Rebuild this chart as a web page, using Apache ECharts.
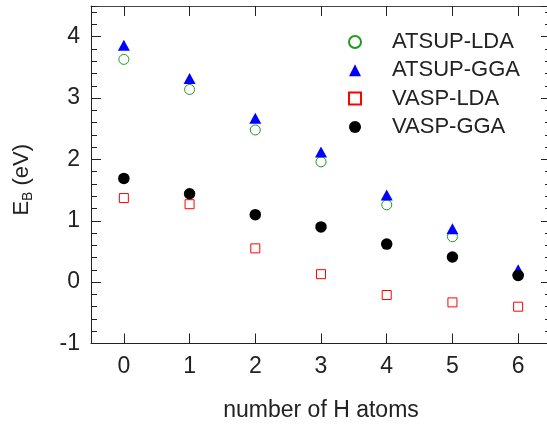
<!DOCTYPE html>
<html>
<head>
<meta charset="utf-8">
<script src="https://cdn.jsdelivr.net/npm/echarts@6/dist/echarts.min.js"></script>
<style>
html,body{margin:0;padding:0;background:#fff;}
#chart{width:547px;height:427px;}
</style>
</head>
<body>
<div id="chart"></div>
<script>
var categories = ['0', '1', '2', '3', '4', '5', '6'];
var atsupLda = [3.63, 3.14, 2.48, 1.96, 1.26, 0.74, 0.11];
var atsupGga = [3.86, 3.32, 2.67, 2.12, 1.42, 0.87, 0.20];
var vaspLda = [1.37, 1.27, 0.55, 0.13, -0.21, -0.33, -0.40];
var vaspGga = [1.69, 1.44, 1.10, 0.90, 0.62, 0.41, 0.11];
var seriesNames = ['ATSUP-LDA', 'ATSUP-GGA', 'VASP-LDA', 'VASP-GGA'];

var FONT = 'Liberation Sans, Arial, Helvetica, sans-serif';
var AXC = '#222';
var chart = echarts.init(document.getElementById('chart'), null, {renderer: 'canvas'});

function yAx(pos, interval, len, labels, line, extra) {
  var o = {
    type: 'value', position: pos, min: -1, max: 4.5, interval: interval,
    splitLine: {show: false},
    axisLine: {show: line, onZero: false, lineStyle: {color: AXC, width: 1}},
    axisTick: {show: true, inside: true, length: len, lineStyle: {color: AXC, width: 1}},
    axisLabel: {show: labels, showMaxLabel: false, margin: 11, fontSize: 23, color: AXC, fontFamily: FONT}
  };
  if (extra) for (var k in extra) o[k] = extra[k];
  return o;
}

var option = {
  backgroundColor: '#fff',
  animation: false,
  grid: {left: 91, top: 6, right: -4, bottom: 83.5, containLabel: false, outerBoundsMode: 'none'},
  legend: {
    orient: 'vertical', left: 348, top: 31, padding: 0,
    itemWidth: 12, itemHeight: 12, itemGap: 6.3,
    textStyle: {fontSize: 22, lineHeight: 22, color: AXC, fontFamily: FONT, padding: [0, 0, 0, 26]},
    data: seriesNames
  },
  xAxis: [{
    type: 'category', data: categories, position: 'bottom', boundaryGap: true,
    name: 'number of H atoms', nameLocation: 'middle', nameGap: 56,
    nameTextStyle: {fontSize: 23, color: AXC, fontFamily: FONT},
    axisLine: {show: true, onZero: false, lineStyle: {color: AXC, width: 1}},
    axisTick: {show: true, inside: true, length: 10, alignWithLabel: true, lineStyle: {color: AXC}},
    axisLabel: {margin: 12, fontSize: 23, color: AXC, fontFamily: FONT},
    splitLine: {show: false}
  }, {
    type: 'category', data: categories, position: 'top', boundaryGap: true,
    axisLine: {show: true, onZero: false, lineStyle: {color: '#444', width: 1}},
    axisTick: {show: true, inside: true, length: 10, alignWithLabel: true, lineStyle: {color: AXC}},
    axisLabel: {show: false},
    splitLine: {show: false}
  }],
  yAxis: [
    yAx('left', 1, 10, true, true, {
      name: '{a|E}{b|B}{a| (eV)}', nameLocation: 'middle', nameGap: 56, nameRotate: 90,
      nameTextStyle: {color: AXC, fontFamily: FONT, padding: [0, 10, 0, 0], rich: {
        a: {fontSize: 22, color: AXC, fontFamily: FONT, lineHeight: 26},
        b: {fontSize: 14, color: AXC, fontFamily: FONT, lineHeight: 26, verticalAlign: 'bottom', padding: [10, 0, 0, 0]}
      }}
    }),
    yAx('left', 0.2, 6, false, false),
    yAx('right', 1, 10, false, true),
    yAx('right', 0.2, 6, false, false)
  ],
  series: [{
    name: seriesNames[0], type: 'scatter', data: atsupLda,
    symbol: 'circle', symbolSize: 10,
    itemStyle: {color: 'rgba(255,255,255,0)', borderColor: '#1f9a1f', borderWidth: 1, opacity: 1}
  }, {
    name: seriesNames[1], type: 'scatter', data: atsupGga,
    symbol: 'triangle', symbolSize: [12, 11],
    itemStyle: {color: '#0000ff', opacity: 1}
  }, {
    name: seriesNames[2], type: 'scatter', data: vaspLda,
    symbol: 'rect', symbolSize: 9,
    itemStyle: {color: 'rgba(255,255,255,0)', borderColor: '#ff0000', borderWidth: 1, opacity: 1}
  }, {
    name: seriesNames[3], type: 'scatter', data: vaspGga,
    symbol: 'circle', symbolSize: 11.5,
    itemStyle: {color: '#000000', opacity: 1}
  }]
};
chart.setOption(option);
</script>
</body>
</html>
